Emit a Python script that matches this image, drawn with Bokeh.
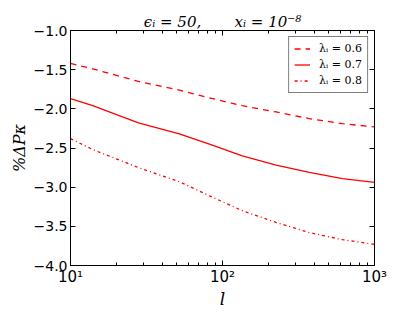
from bokeh.plotting import figure
from bokeh.models import (LogAxis, LinearAxis, Legend, LegendItem, CustomJSTickFormatter,
                          FixedTicker, Range1d)
from bokeh.embed import file_html
from bokeh.resources import INLINE

l_values = [10, 14, 28, 52, 82, 135, 225, 373, 615, 1000]
dp_lam06 = [-1.42, -1.49, -1.65, -1.76, -1.86, -1.96, -2.04, -2.125, -2.19, -2.23]
dp_lam07 = [-1.87, -1.96, -2.18, -2.32, -2.45, -2.60, -2.72, -2.81, -2.89, -2.94]
dp_lam08 = [-2.38, -2.52, -2.75, -2.93, -3.11, -3.30, -3.45, -3.58, -3.67, -3.73]
series_labels = ["λᵢ = 0.6", "λᵢ = 0.7", "λᵢ = 0.8"]
y_ticks = [-4.0, -3.5, -3.0, -2.5, -2.0, -1.5, -1.0]
x_ticks = [10, 100, 1000]
title_text = "ϵᵢ = 50,\u00a0\u00a0\u00a0\u00a0\u00a0\u00a0\u00a0xᵢ = 10⁻⁸"

p = figure(frame_width=304, frame_height=235, x_axis_type="log",
           x_range=Range1d(10, 1000), y_range=Range1d(-4.0, -1.0),
           output_backend="svg", toolbar_location=None,
           min_border_left=70, min_border_right=26, min_border_top=30, min_border_bottom=30)
p.title.text = title_text
p.title.text_font = "DejaVu Serif"
p.title.text_font_style = "italic"
p.title.text_font_size = "15px"
p.title.text_color = "black"
p.title.align = "center"
p.title.standoff = 0
p.grid.visible = False
p.outline_line_color = "black"
p.outline_line_width = 1
p.background_fill_color = "white"
p.border_fill_color = "white"

sup = CustomJSTickFormatter(code="""
const m = {'0':'⁰','1':'¹','2':'²','3':'³','4':'⁴','5':'⁵','6':'⁶','7':'⁷','8':'⁸','9':'⁹','-':'⁻'};
const e = String(Math.round(Math.log10(tick)));
return '10' + e.split('').map(c => m[c]).join('');
""")
yfmt = CustomJSTickFormatter(code="return tick.toFixed(1).replace('-', '\\u2212');")
empty = CustomJSTickFormatter(code="return '';")

def style(ax):
    ax.major_tick_in = 5
    ax.major_tick_out = 0
    ax.minor_tick_in = 3
    ax.minor_tick_out = 0
    ax.axis_line_color = "black"
    ax.major_tick_line_color = "black"
    ax.minor_tick_line_color = "black"
    ax.major_label_text_font = "DejaVu Sans"
    ax.major_label_text_color = "black"
    ax.axis_label_text_color = "black"

minor_x = [v * k for v in [10, 100] for k in range(2, 10)]

xa = p.xaxis[0]
style(xa)
xa.ticker = FixedTicker(ticks=x_ticks, minor_ticks=minor_x)
xa.formatter = sup
xa.major_label_text_font_size = "15px"
xa.major_label_standoff = 2
xa.axis_label = "l"
xa.axis_label_text_font = "DejaVu Serif"
xa.axis_label_text_font_style = "italic"
xa.axis_label_text_font_size = "17px"
xa.axis_label_standoff = 0

ya = p.yaxis[0]
style(ya)
ya.ticker = FixedTicker(ticks=y_ticks)
ya.minor_tick_line_color = None
ya.formatter = yfmt
ya.major_label_text_font_size = "14px"
ya.major_label_standoff = 3
ya.axis_label = "%ΔPκ"
ya.axis_label_text_font = "DejaVu Serif"
ya.axis_label_text_font_style = "italic"
ya.axis_label_text_font_size = "16px"
ya.axis_label_standoff = 2

top = LogAxis(ticker=FixedTicker(ticks=x_ticks, minor_ticks=minor_x), formatter=empty)
style(top)
top.major_label_text_font_size = "0px"
top.major_label_standoff = 0
p.add_layout(top, "above")
right = LinearAxis(ticker=FixedTicker(ticks=y_ticks), formatter=empty)
style(right)
right.minor_tick_line_color = None
right.major_label_text_font_size = "0px"
right.major_label_standoff = 0
p.add_layout(right, "right")

r1 = p.line(l_values, dp_lam06, line_color="red", line_width=1.3, line_dash="6 5")
r2 = p.line(l_values, dp_lam07, line_color="red", line_width=1.3)
r3 = p.line(l_values, dp_lam08, line_color="red", line_width=1.3, line_dash="3 3 1 3")

legend = Legend(items=[LegendItem(label=series_labels[0], renderers=[r1]),
                       LegendItem(label=series_labels[1], renderers=[r2]),
                       LegendItem(label=series_labels[2], renderers=[r3])],
                location="top_right")
legend.border_line_color = "black"
legend.border_line_width = 1
legend.label_text_font = "DejaVu Serif"
legend.label_text_font_size = "11px"
legend.label_text_color = "black"
legend.label_height = 13
legend.glyph_height = 13
legend.glyph_width = 16
legend.label_standoff = 9
legend.spacing = 3
legend.padding = 5
legend.margin = 6
legend.background_fill_alpha = 1.0
p.add_layout(legend)

open("out.html", "w").write(file_html(p, INLINE))
